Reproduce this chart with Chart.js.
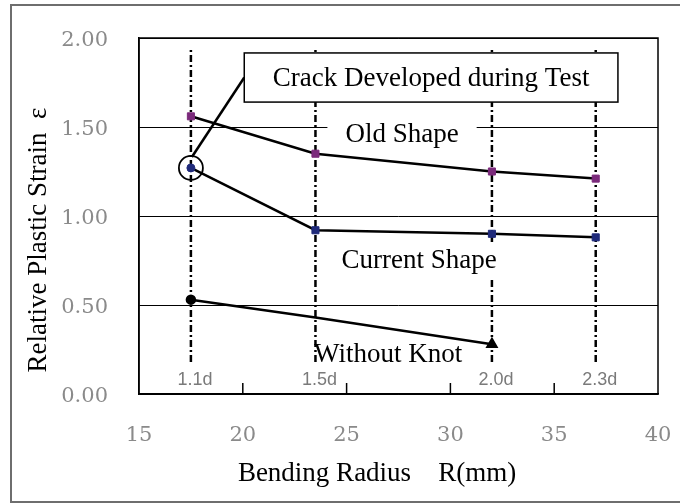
<!DOCTYPE html>
<html>
<head>
<meta charset="utf-8">
<script src="https://cdn.jsdelivr.net/npm/chart.js@4"></script>
<style>
  html, body { margin: 0; padding: 0; background: #fff; }
  #wrap { width: 680px; height: 504px; }
</style>
</head>
<body>
<div id="wrap"><canvas id="strainChart" width="680" height="504"></canvas></div>
<script>
// data
const radius = [17.5, 23.5, 32, 37];
const radiusLabels = ["1.1d", "1.5d", "2.0d", "2.3d"];
const oldShape = [1.56, 1.35, 1.25, 1.21];
const currentShape = [1.27, 0.92, 0.90, 0.88];
const withoutKnot = [0.53, 0.43, 0.28, null];
const refLineRange = [0.18, 1.95];

const serif = "'Liberation Serif', 'Times New Roman', serif";

function toPoints(values) {
    return radius.map((r, i) => ({ x: r, y: values[i] }));
}

const seriesStyle = {
    borderColor: "#000",
    borderWidth: 2.5,
    fill: false,
    tension: 0,
    spanGaps: false
};

const datasets = [
    {
        label: "Old Shape",
        data: toPoints(oldShape),
        ...seriesStyle,
        pointStyle: "rect",
        pointRadius: 5,
        pointBackgroundColor: "#7b2a7b",
        pointBorderColor: "#7b2a7b",
        pointBorderWidth: 1
    },
    {
        label: "Current Shape",
        data: toPoints(currentShape),
        ...seriesStyle,
        pointStyle: ["circle", "rect", "rect", "rect"],
        pointRadius: [4, 5, 5, 5],
        pointBackgroundColor: "#1f2a7a",
        pointBorderColor: "#1f2a7a",
        pointBorderWidth: 1
    },
    {
        label: "Without Knot",
        data: toPoints(withoutKnot),
        ...seriesStyle,
        pointStyle: ["circle", "circle", "triangle", "circle"],
        pointRadius: [4, 0, 5, 0],
        pointBackgroundColor: "#000",
        pointBorderColor: "#000"
    }
];

// dash-dot reference lines at each bending radius
radius.forEach((r, i) => {
    datasets.push({
        label: radiusLabels[i],
        data: refLineRange.map(v => ({ x: r, y: v })),
        borderColor: "#000",
        borderWidth: 2.5,
        borderDash: [7, 3, 2, 3],
        pointRadius: 0
    });
});

// annotation positions in data units
const notes = {
    box: { x1: 20.07, x2: 38.07, y1: 1.916, y2: 1.64, text: "Crack Developed during Test" },
    labels: [
        { text: "Old Shape", x: 27.67, y: 1.455, bg: true },
        { text: "Current Shape", x: 28.49, y: 0.747, bg: true },
        { text: "Without Knot", x: 27.0, y: 0.219, bg: false }
    ]
};

const decorations = {
    id: "decorations",
    afterDatasetsDraw(chart) {
        const { ctx, chartArea: a, scales: { x, y } } = chart;
        ctx.save();

        // inside tick marks on x axis
        ctx.strokeStyle = "#000";
        ctx.lineWidth = 1.5;
        x.ticks.forEach(t => {
            if (t.value <= x.min || t.value >= x.max) return;
            const px = x.getPixelForValue(t.value);
            ctx.beginPath();
            ctx.moveTo(px, a.bottom);
            ctx.lineTo(px, a.bottom - 11);
            ctx.stroke();
        });

        // plot frame
        ctx.lineWidth = 1.5;
        ctx.strokeRect(a.left, a.top, a.right - a.left, a.bottom - a.top);

        // radius labels under the dash-dot lines
        ctx.fillStyle = "#7a7a7a";
        ctx.font = "18px 'Liberation Sans', Arial, sans-serif";
        ctx.textAlign = "center";
        ctx.textBaseline = "middle";
        radius.forEach((r, i) => {
            ctx.fillText(radiusLabels[i], x.getPixelForValue(r) + 4, a.bottom - 14);
        });

        // series labels
        ctx.font = "27px " + serif;
        notes.labels.forEach(l => {
            const px = x.getPixelForValue(l.x);
            const py = y.getPixelForValue(l.y);
            if (l.bg) {
                const w = ctx.measureText(l.text).width + 36;
                ctx.fillStyle = "#fff";
                ctx.fillRect(px - w / 2, py - 17, w, 34);
            }
            ctx.fillStyle = "#000";
            ctx.fillText(l.text, px, py);
        });

        // crack circle + leader + box
        const cx = x.getPixelForValue(radius[0]);
        const cy = y.getPixelForValue(currentShape[0]);
        ctx.strokeStyle = "#000";
        ctx.lineWidth = 1.8;
        ctx.beginPath();
        ctx.arc(cx, cy, 12, 0, Math.PI * 2);
        ctx.stroke();

        const bx1 = x.getPixelForValue(notes.box.x1);
        const bx2 = x.getPixelForValue(notes.box.x2);
        const by1 = y.getPixelForValue(notes.box.y1);
        const by2 = y.getPixelForValue(notes.box.y2);
        ctx.lineWidth = 2.5;
        ctx.beginPath();
        ctx.moveTo(cx + 1, cy - 11);
        ctx.lineTo(bx1, (by1 + by2) / 2);
        ctx.stroke();

        ctx.fillStyle = "#fff";
        ctx.fillRect(bx1, by1, bx2 - bx1, by2 - by1);
        ctx.lineWidth = 1.5;
        ctx.strokeRect(bx1, by1, bx2 - bx1, by2 - by1);
        ctx.fillStyle = "#000";
        ctx.fillText(notes.box.text, (bx1 + bx2) / 2, (by1 + by2) / 2 + 1);

        // axis titles
        ctx.font = "27px " + serif;
        ctx.fillText("Bending Radius    R(mm)", 377, 474);
        ctx.save();
        ctx.translate(39, 240);
        ctx.rotate(-Math.PI / 2);
        ctx.fillText("Relative Plastic Strain  \u03b5", 0, 0);
        ctx.restore();

        // outer frame
        ctx.strokeStyle = "#6e6e6e";
        ctx.lineWidth = 2;
        ctx.strokeRect(11, 5, 700, 497);

        ctx.restore();
    }
};

const ctx = document.getElementById("strainChart");

new Chart(ctx, {
    type: "line",
    data: { datasets: datasets },
    options: {
        responsive: false,
        animation: false,
        layout: { padding: { left: 0, right: 22, top: 38, bottom: 0 } },
        plugins: {
            legend: { display: false },
            tooltip: { enabled: false }
        },
        scales: {
            x: {
                type: "linear",
                min: 15,
                max: 40,
                afterFit: s => {
                    s.height = 110;
                    s.paddingLeft = 0;
                    s.paddingRight = 0;
                },
                grid: { display: false, drawTicks: false },
                border: { display: true, color: "#000", width: 1.5 },
                ticks: {
                    stepSize: 5,
                    padding: 29,
                    color: "#8a8a8a",
                    font: { family: "'DejaVu Serif', serif", size: 21 }
                }
            },
            y: {
                min: 0,
                max: 2,
                afterFit: s => {
                    s.width = 139;
                    s.paddingTop = 0;
                    s.paddingBottom = 0;
                },
                grid: { color: "#000", lineWidth: 1, drawTicks: false },
                border: { display: true, color: "#000", width: 1.5 },
                ticks: {
                    stepSize: 0.5,
                    padding: 31,
                    labelOffset: 3,
                    color: "#8a8a8a",
                    font: { family: "'DejaVu Serif', serif", size: 21 },
                    callback: v => v.toFixed(2)
                }
            }
        }
    },
    plugins: [decorations]
});
</script>
</body>
</html>
